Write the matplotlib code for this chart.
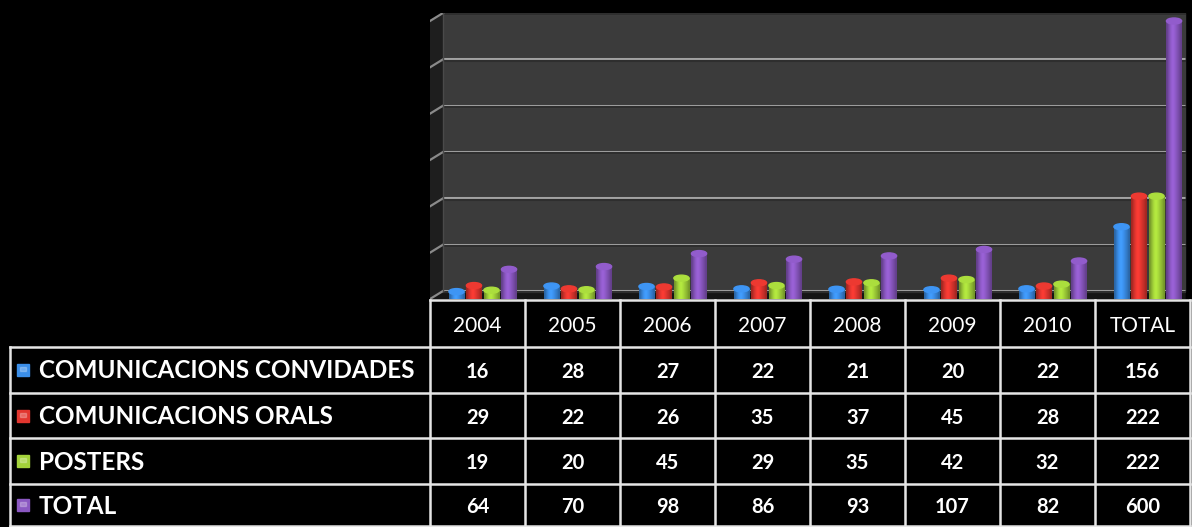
import matplotlib
matplotlib.use("Agg")
import matplotlib.pyplot as plt
import numpy as np
from matplotlib.colors import to_rgb
from matplotlib.patches import Polygon, Rectangle, Ellipse

plt.rcParams['font.family'] = ['Lato', 'DejaVu Sans']

columns = ['2004', '2005', '2006', '2007', '2008', '2009', '2010', 'TOTAL']
series_names = ['COMUNICACIONS CONVIDADES', 'COMUNICACIONS ORALS', 'POSTERS', 'TOTAL']
convidades = [16, 28, 27, 22, 21, 20, 22, 156]
orals = [29, 22, 26, 35, 37, 45, 28, 222]
posters = [19, 20, 45, 29, 35, 42, 32, 222]
total = [64, 70, 98, 86, 93, 107, 82, 600]
series_colors = ['#3b8ee8', '#e2362f', '#a3d33a', '#8b58c2']
grid_values = [0, 100, 200, 300, 400, 500, 600]

W, H = 1192, 527
fig = plt.figure(figsize=(W / 100, H / 100), dpi=100, facecolor='black')

# chart area: columns 95 px wide starting at x=430, value 0 at y=299
x0, x1 = 430, 1190
ybot, ytop = 299, 13
px_per_unit = 278 / 600.0
ymax = (ybot - ytop) / px_per_unit
ax = fig.add_axes([x0 / W, (H - ybot) / H, (x1 - x0) / W, (ybot - ytop) / H])
ax.set_xlim(0, len(columns))
ax.set_ylim(0, ymax)
ax.axis('off')
ax.set_facecolor('black')

# 3d depth offset of the back wall
ddx = 13 / 95.0
ddy = 8 / px_per_unit
xr = len(columns) - 5 / 95.0

ax.add_patch(Rectangle((ddx, ddy), xr - ddx, ymax - ddy, color='#3b3b3b', zorder=0))
ax.add_patch(Polygon([(0, 0), (ddx, ddy), (ddx, ymax), (0, ymax - ddy)],
                     closed=True, color='#1e1e1e', zorder=0))
ax.add_patch(Polygon([(0, 0), (ddx, ddy), (xr, ddy), (xr, 0)],
                     closed=True, color='#151515', zorder=1))
for v in grid_values:
    ax.plot([ddx, xr], [v + ddy, v + ddy], color='#a2a2a2', lw=2.2, zorder=1,
            solid_capstyle='butt')
    ax.plot([ddx, xr], [v + ddy - 3, v + ddy - 3], color='#2e2e2e', lw=1.5, zorder=1)
    ax.plot([0, ddx], [v, v + ddy], color='#8a8a8a', lw=1.6, zorder=1)
ax.plot([ddx, ddx], [ddy, ymax], color='#4a4a4a', lw=1, zorder=1)

# bars with a horizontal shade so they look rounded
shade = np.array([0.72, 0.9, 1.05, 1.12, 1.05, 0.95, 0.85, 0.72])
offsets = [0.279, 0.463, 0.647, 0.832]
bw = 0.16
cap_h = 6 / px_per_unit
all_series = [convidades, orals, posters, total]
for k, (vals, col) in enumerate(zip(all_series, series_colors)):
    base = np.array(to_rgb(col))
    grad = np.clip(base[None, :] * shade[:, None], 0, 1)[None, :, :]
    xs = np.arange(len(columns)) + offsets[k]
    bars = ax.bar(xs, vals, width=bw, color=col, zorder=3)
    for b, xc in zip(bars, xs):
        bx, by = b.get_x(), b.get_height()
        img = ax.imshow(grad, extent=(bx, bx + bw, 0, by), aspect='auto',
                        interpolation='bilinear', zorder=4)
        img.set_clip_path(b)
        # rounded top of the bar
        ax.add_patch(Ellipse((xc, by), bw, cap_h,
                             color=np.clip(base * 1.05, 0, 1), zorder=5))

# data table below the chart
tab = fig.add_axes([0, 0, 1, 1])
tab.set_xlim(0, W)
tab.set_ylim(H, 0)
tab.axis('off')
tab.patch.set_alpha(0)

col_edges = [x0 + 95 * i for i in range(len(columns) + 1)]
row_edges = [300, 347, 393, 438, 484, 526]
lab_left = 10
line_kw = dict(color='#e6e6e6', lw=1.8)

tab.plot([x0, x1], [row_edges[0], row_edges[0]], **line_kw)
for y in row_edges[1:]:
    tab.plot([lab_left, x1], [y, y], **line_kw)
for x in col_edges:
    tab.plot([x, x], [row_edges[0], row_edges[-1]], **line_kw)
tab.plot([lab_left, lab_left], [row_edges[1], row_edges[-1]], **line_kw)

for i, c in enumerate(columns):
    cx = (col_edges[i] + col_edges[i + 1]) / 2
    tab.text(cx, (row_edges[0] + row_edges[1]) / 2 + 2, c, color='white',
             fontsize=15, ha='center', va='center')

for r, (name, vals, col) in enumerate(zip(series_names, all_series, series_colors)):
    cy = (row_edges[r + 1] + row_edges[r + 2]) / 2
    tab.add_patch(Rectangle((17, cy - 6), 12, 12, color=col))
    tab.add_patch(Rectangle((20, cy - 3), 6, 4, color='white', alpha=0.25))
    tab.text(39, cy + 1, name, color='white', fontsize=17.5, fontweight='bold',
             ha='left', va='center')
    for i, v in enumerate(vals):
        cx = (col_edges[i] + col_edges[i + 1]) / 2
        tab.text(cx, cy + 2, str(v), color='white', fontsize=14.5,
                 fontweight='bold', ha='center', va='center')

fig.savefig('out.png', dpi=100, facecolor='black')
